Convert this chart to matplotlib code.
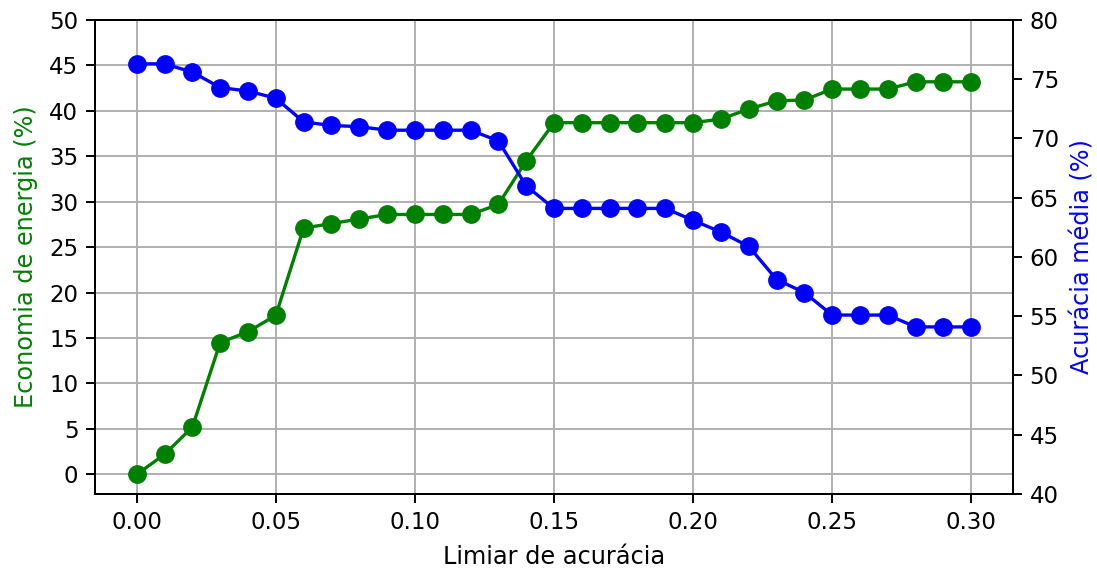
import matplotlib
matplotlib.use("Agg")
import matplotlib.pyplot as plt

limiar = [0.00, 0.01, 0.02, 0.03, 0.04, 0.05, 0.06, 0.07, 0.08, 0.09, 0.10,
          0.11, 0.12, 0.13, 0.14, 0.15, 0.16, 0.17, 0.18, 0.19, 0.20,
          0.21, 0.22, 0.23, 0.24, 0.25, 0.26, 0.27, 0.28, 0.29, 0.30]
economia = [0.0, 2.2, 5.2, 14.5, 15.7, 17.5, 27.1, 27.6, 28.1, 28.6, 28.6,
            28.6, 28.6, 29.7, 34.5, 38.7, 38.7, 38.7, 38.7, 38.7, 38.7,
            39.1, 40.2, 41.1, 41.2, 42.4, 42.4, 42.4, 43.2, 43.2, 43.2]
acuracia = [76.3, 76.3, 75.6, 74.3, 74.0, 73.4, 71.4, 71.1, 71.0, 70.7, 70.7,
            70.7, 70.7, 69.8, 66.0, 64.1, 64.1, 64.1, 64.1, 64.1, 63.1,
            62.1, 60.9, 58.1, 57.0, 55.1, 55.1, 55.1, 54.1, 54.1, 54.1]

plt.rcParams['font.size'] = 16.5
plt.rcParams['axes.labelsize'] = 17.3
plt.rcParams['xtick.major.size'] = 6.5
plt.rcParams['ytick.major.size'] = 6.5
plt.rcParams['xtick.major.width'] = 1.4
plt.rcParams['ytick.major.width'] = 1.4
plt.rcParams['xtick.major.pad'] = 5.5
plt.rcParams['ytick.major.pad'] = 5.5
plt.rcParams['axes.labelpad'] = 8

fig, ax1 = plt.subplots(figsize=(10.97, 5.69), dpi=100)
fig.subplots_adjust(left=95/1097, right=1013/1097, top=1-20/569, bottom=1-494/569)

ax1.plot(limiar, economia, color='green', marker='o', markersize=12.5, linewidth=2.4)
ax1.set_xlabel('Limiar de acurácia')
ax1.set_ylabel('Economia de energia (%)', color='green')
ax1.set_ylim(top=50)
ax1.set_yticks(range(0, 51, 5))
ax1.set_xticks([0.0, 0.05, 0.10, 0.15, 0.20, 0.25, 0.30])
ax1.set_xticklabels(['0.00', '0.05', '0.10', '0.15', '0.20', '0.25', '0.30'])
ax1.grid(True, color='#b0b0b0', linewidth=1.4)
for s in ax1.spines.values():
    s.set_linewidth(1.4)

ax2 = ax1.twinx()
ax2.plot(limiar, acuracia, color='blue', marker='o', markersize=12.5, linewidth=2.4)
ax2.set_ylabel('Acurácia média (%)', color='blue')
ax2.set_ylim(40, 80)
for s in ax2.spines.values():
    s.set_linewidth(1.4)

fig.savefig('out.png', dpi=100)
